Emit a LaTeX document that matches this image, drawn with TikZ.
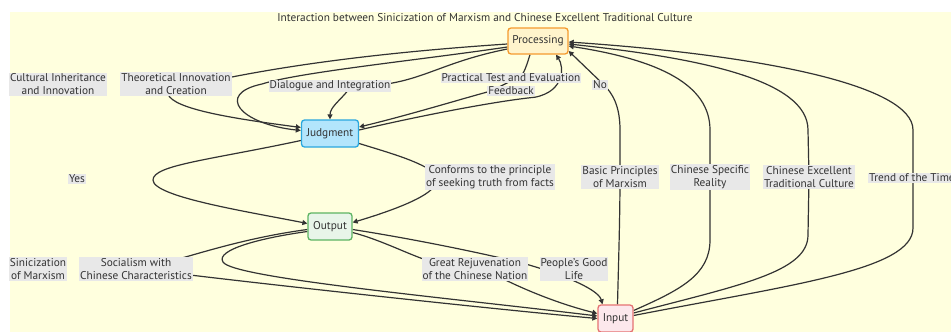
\documentclass[tikz,border=0pt]{standalone}
\usepackage{fontspec}
\setmainfont{PT Sans}
\usetikzlibrary{arrows.meta,calc}
\definecolor{bgyellow}{HTML}{FFFFDE}
\definecolor{txt}{HTML}{333333}
\definecolor{lblgray}{HTML}{E8E8E8}
\definecolor{procfill}{HTML}{FFF4CC}
\definecolor{procdraw}{HTML}{F59A2E}
\definecolor{judfill}{HTML}{B3E5FC}
\definecolor{juddraw}{HTML}{2AA7DF}
\definecolor{outfill}{HTML}{E8F5E9}
\definecolor{outdraw}{HTML}{5DB462}
\definecolor{inpfill}{HTML}{FCE8EC}
\definecolor{inpdraw}{HTML}{E57373}
\pgfdeclarelayer{bglayer}
\pgfdeclarelayer{edgelayer}
\pgfsetlayers{bglayer,edgelayer,main}
\tikzset{
  nodebox/.style={rounded corners=3pt, line width=1.3pt, minimum height=27pt, inner sep=0pt,
    font=\fontsize{11.3}{13}\selectfont, text=txt},
  lbl/.style={fill=lblgray, inner sep=1pt, align=center, text=txt,
    font=\fontsize{11.3}{13}\selectfont},
  conn/.style={draw=txt, line width=1.2pt},
  arr/.style={conn, -{Triangle[length=5pt,width=5pt]}}
}
\begin{document}
\begin{tikzpicture}[x=1pt,y=-1pt]
\useasboundingbox (0,0) rectangle (951,332);
\begin{pgfonlayer}{bglayer}
\fill[white] (0,0) rectangle (951,332);
\fill[bgyellow] (10,12) rectangle (951,332);
\end{pgfonlayer}

\node[text=txt, font=\fontsize{11.3}{13}\selectfont] (title) at (485,18) {Interaction between Sinicization of Marxism and Chinese Excellent Traditional Culture};

% main nodes
\node[nodebox, fill=procfill, draw=procdraw, minimum width=60pt, minimum height=26pt] (proc) at (538,41) {Processing};
\node[nodebox, fill=judfill, draw=juddraw, minimum width=57pt] (jud) at (330,133.5) {Judgment};
\node[nodebox, fill=outfill, draw=outdraw, minimum width=44pt] (out) at (330,226.5) {Output};
\node[nodebox, fill=inpfill, draw=inpdraw, minimum width=35pt] (inp) at (615.5,318.5) {Input};

% labels
\node[lbl] (lcult) at (58,84.5) {Cultural Inheritance\\and Innovation};
\node[lbl] (ltheo) at (176,84) {Theoretical Innovation\\and Creation};
\node[lbl] (ldial) at (330,86) {Dialogue and Integration};
\node[lbl] (lprac) at (511,78) {Practical Test and Evaluation};
\node[lbl] (lfeed) at (511,91) {Feedback};
\node[lbl] (lno) at (600,85) {No};
\node[lbl] (lyes) at (77,179) {Yes};
\node[lbl] (lconf) at (490,177) {Conforms to the principle\\of seeking truth from facts};
\node[lbl] (lbasic) at (620,177) {Basic Principles\\of Marxism};
\node[lbl] (lspec) at (710,177) {Chinese Specific\\Reality};
\node[lbl] (lexc) at (809,177) {Chinese Excellent\\Traditional Culture};
\node[lbl, anchor=west] (ltrend) at (868,178) {Trend of the Times};
\node[lbl] (lsin) at (38,269) {Sinicization\\of Marxism};
\node[lbl] (lsoc) at (136,269) {Socialism with\\Chinese Characteristics};
\node[lbl] (lgreat) at (475,269) {Great Rejuvenation\\of the Chinese Nation};
\node[lbl] (lpeople) at (574,269) {People's Good\\Life};

\begin{pgfonlayer}{edgelayer}
% Processing -> Judgment (Theoretical Innovation)
\draw[arr] ($(proc.west)+(0,3)$) .. controls +(-120,8) and +(70,-14) .. ($(ltheo.east)+(-5,-6)$)
  -- ($(ltheo.south)+(-8,-2)$) .. controls +(4,16) and +(-60,-8) .. ($(jud.west)+(0,-6)$);
% Processing -> Judgment (loop)
\draw[arr] ($(proc.west)+(0,6)$) .. controls (420,60) and (300,72) .. (262,84)
  .. controls (215,94) and (240,124) .. ($(jud.west)+(0,-3)$);
% Processing -> Judgment (Dialogue and Integration)
\draw[arr] ($(proc.west)+(0,8)$) .. controls +(-60,12) and +(40,-6) .. ($(ldial.east)+(-5,-2)$)
  -- ($(ldial.south)+(18,-2)$) .. controls +(-8,10) and +(0,-12) .. (jud.north);
% Processing -> Judgment (Practical Test and Evaluation)
\draw[arr] ($(proc.south)+(-8,0)$) .. controls +(-2,6) and +(4,-4) .. ($(lprac.center)+(10,-2)$)
  -- ($(lfeed.west)+(4,0)$) .. controls +(-30,8) and +(50,-12) .. ($(jud.east)+(0,-6.5)$);
% Judgment -> Processing (Feedback)
\draw[arr] ($(jud.east)+(0,-3.5)$) .. controls +(60,-14) and +(-40,4) .. ($(lfeed.south east)+(0,1)$)
  .. controls +(30,-6) and +(8,12) .. ($(proc.south)+(18,0)$);
% Input -> Processing (Basic Principles / No)
\draw[arr] ($(inp.north)+(2,0)$) .. controls +(1,-40) and +(0,40) .. (lbasic.center)
  -- (620,130) .. controls (620,105) and (612,93) .. (604,85) -- ($(proc.east)+(0,10)$);
% Input -> Processing (Chinese Specific Reality)
\draw[arr] ($(inp.east)+(0,-8)$) .. controls (680,290) and (710,275) .. (710,240)
  -- (lspec.center) -- (710,130) .. controls (710,85) and (660,60) .. ($(proc.east)+(0,5)$);
% Input -> Processing (Chinese Excellent Traditional Culture)
\draw[arr] ($(inp.east)+(0,-5.5)$) .. controls (740,285) and (808,272) .. (808,235)
  -- (lexc.center) -- (808,130) .. controls (808,80) and (700,58) .. ($(proc.east)+(0,3)$);
% Input -> Processing (Trend of the Times)
\draw[arr] ($(inp.east)+(0,-3)$) .. controls (790,285) and (913,270) .. (913,228)
  -- (913,178) -- (913,130) .. controls (913,85) and (760,55) .. ($(proc.east)+(0,1)$);
% Judgment -> Output (Yes)
\draw[arr] ($(jud.west)+(0,7)$) .. controls (210,160) and (153,165) .. (153,180)
  .. controls (153,197) and (250,212) .. ($(out.west)+(0,-3)$);
% Judgment -> Output (Conforms)
\draw[arr] ($(jud.east)+(0,10)$) .. controls (390,153) and (415,160) .. ($(lconf.west)+(7,-6)$)
  -- ($(lconf.west)+(10,8)$) .. controls +(-6,12) and +(40,-12) .. ($(out.east)+(0,-4)$);
% Output -> Input (Socialism)
\draw[arr] ($(out.west)+(0,3)$) .. controls +(-60,8) and +(30,-8) .. ($(lsoc.east)+(-22,-8)$)
  -- ($(lsoc.east)+(-3,6)$) .. controls +(100,12) and +(-100,-9) .. ($(inp.west)+(0,0)$);
% Output -> Input (loop)
\draw[arr] ($(out.west)+(0,5)$) .. controls (260,238) and (215,250) .. (223,262)
  .. controls (232,278) and (450,298) .. ($(inp.west)+(0,-2.5)$);
% Output -> Input (Great Rejuvenation)
\draw[arr] ($(out.east)+(0,6)$) .. controls +(30,8) and +(-20,-6) .. ($(lgreat.west)+(8,-8)$)
  -- ($(lgreat.south)+(28,-2)$) .. controls +(20,10) and +(-40,-10) .. ($(inp.west)+(0,-5)$);
% Output -> Input (People's Good Life)
\draw[arr] ($(out.east)+(0,3)$) .. controls (420,240) and (490,255) .. (522,263)
  .. controls (555,272) and (598,288) .. ($(inp.north)+(-13,0)$);
\end{pgfonlayer}
\end{tikzpicture}
\end{document}
